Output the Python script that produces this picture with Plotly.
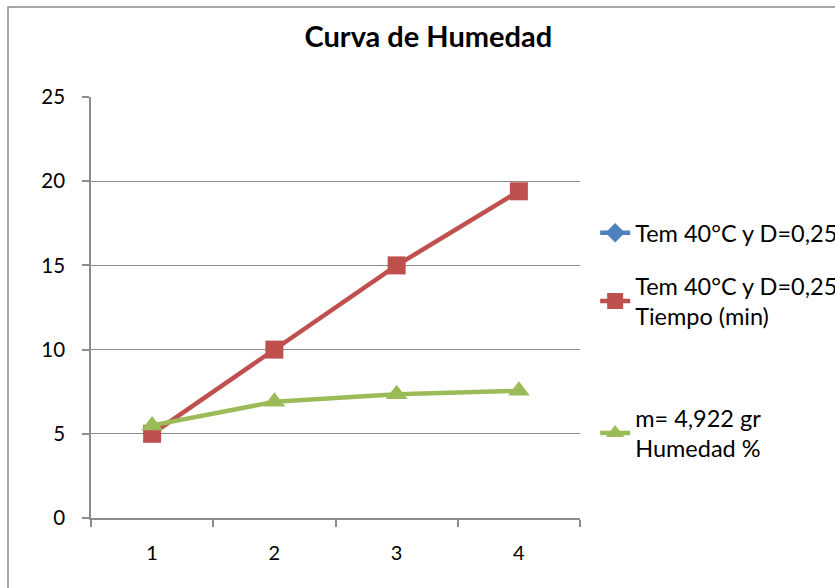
import plotly.graph_objects as go

categories = [1, 2, 3, 4]
blue_name = "Tem 40°C y D=0,25"
blue_values = [None, None, None, None]
red_name = "Tem 40°C y D=0,25<br>Tiempo (min)"
red_values = [5, 10, 15, 19.4]
green_name = "m= 4,922 gr<br>Humedad %"
green_values = [5.5, 6.9, 7.35, 7.55]
y_ticks = [0, 5, 10, 15, 20, 25]

FONT = "Lato, Calibri, Carlito, sans-serif"
GRID = "#8c8c8c"

fig = go.Figure()
fig.add_trace(go.Scatter(x=categories, y=blue_values, name=blue_name, mode="lines+markers",
                         line=dict(color="#4F81BD", width=4.5),
                         marker=dict(symbol="diamond", size=15, color="#4F81BD"),
                         legend="legend"))
fig.add_trace(go.Scatter(x=categories, y=red_values, name=red_name, mode="lines+markers",
                         line=dict(color="#C0504D", width=4.5),
                         marker=dict(symbol="square", size=18, color="#C0504D"),
                         legend="legend2"))
fig.add_trace(go.Scatter(x=categories, y=green_values, name=green_name, mode="lines+markers",
                         line=dict(color="#9BBB59", width=4.5),
                         marker=dict(symbol="triangle-up", size=19, color="#9BBB59"),
                         legend="legend3"))

leg = dict(xanchor="left", yanchor="top", bgcolor="rgba(0,0,0,0)",
           font=dict(family=FONT, size=23.5, color="#000"))

fig.update_layout(
    width=835, height=588,
    showlegend=True,
    margin=dict(l=91, r=255, t=97, b=70, autoexpand=False),
    paper_bgcolor="white", plot_bgcolor="white",
    font=dict(family=FONT, size=20, color="#000"),
    title=dict(text="<b>Curva de Humedad</b>", x=0.513, xref="container", xanchor="center",
               y=1 - 37 / 588, yref="container", yanchor="middle",
               font=dict(family=FONT, size=29, color="#000")),
    legend=dict(x=1.031, y=(518 - 211) / 421, **leg),
    legend2=dict(x=1.031, y=(518 - 264) / 421, **leg),
    legend3=dict(x=1.031, y=(518 - 396) / 421, **leg),
    xaxis=dict(range=[0.5, 4.5], tickvals=categories, ticktext=[str(c) for c in categories],
               ticks="", showgrid=False, zeroline=False, showline=True,
               linecolor=GRID, linewidth=1.5,
               minor=dict(tick0=0.5, dtick=1, ticks="outside", ticklen=7,
                          tickcolor=GRID, tickwidth=1.5, showgrid=False),
               tickfont=dict(family=FONT, size=20), ticklabelstandoff=16),
    yaxis=dict(range=[0, 25], tickvals=y_ticks, ticks="outside", ticklen=7,
               tickcolor=GRID, tickwidth=1.5, showgrid=True, gridcolor=GRID, gridwidth=1.3,
               zeroline=False, showline=True, linecolor=GRID, linewidth=1.5,
               tickfont=dict(family=FONT, size=20.5), ticklabelstandoff=13),
)

# outer chart border (extends past right and bottom edges)
fig.add_shape(type="rect", xref="paper", yref="paper",
              x0=(8 - 91) / 489, x1=(845 - 91) / 489,
              y0=(518 - 600) / 421, y1=(518 - 7) / 421,
              line=dict(color="#8c8c8c", width=1.5), layer="below")

fig.write_html("out.html", config={"displayModeBar": False},
               post_script="document.body.style.margin='0';")
